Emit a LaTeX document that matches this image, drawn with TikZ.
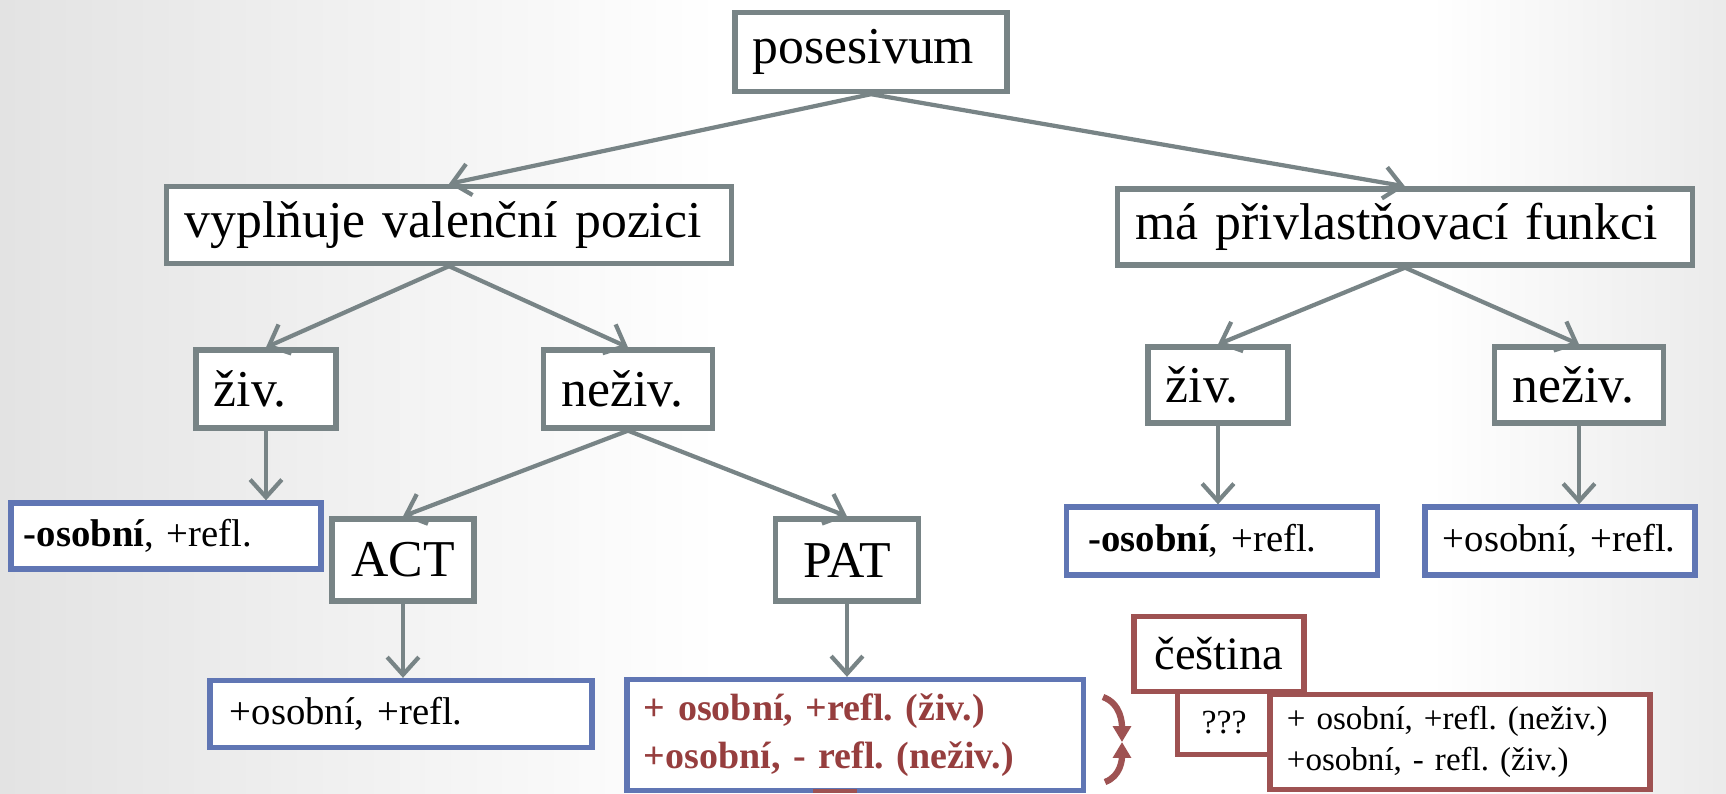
\documentclass[tikz,border=0pt]{standalone}
\usepackage{fontspec}
\setmainfont{Liberation Serif}
\usepackage{xcolor}
\usepackage{tikz}
\usetikzlibrary{arrows.meta}

\definecolor{boxgray}{RGB}{120,132,134}
\definecolor{boxblue}{RGB}{96,118,180}
\definecolor{boxred}{RGB}{158,82,82}
\definecolor{redtext}{RGB}{150,62,62}

\tikzset{
  gbox/.style={draw=boxgray, line width=1.5pt, fill=white, inner xsep=0.18cm, inner ysep=0pt, align=left, font=\fontsize{14.7}{18}\selectfont},
  bbox/.style={draw=boxblue, line width=1.5pt, fill=white, inner ysep=0pt, align=left, font=\fontsize{11}{13}\selectfont},
  rbox/.style={draw=boxred, line width=1.5pt, fill=white, inner ysep=0pt, align=left},
  arr/.style={draw=boxgray, line width=1.2pt, -{Straight Barb[length=5pt,width=9pt]}},
  brc/.style={draw=boxred, line width=1.8pt, -{Triangle[length=4.5pt,width=5pt]}}
}

\begin{document}
\frenchspacing
\begin{tikzpicture}[x=0.01cm, y=-0.01cm]
		% background
		\useasboundingbox (0,0) rectangle (1726,793);
		\fill[white] (0,0) rectangle (1726,793);
		\shade[left color=black!11, right color=white] (0,0) rectangle (720,793);
		\shade[left color=white, right color=black!8] (1430,0) rectangle (1726,793);

		% Top levels
		\node[gbox, text width=2.36cm, minimum height=0.79cm] (pos) at (871,52) {posesivum};
		\node[gbox, text width=5.28cm, minimum height=0.77cm] (vyp) at (449,225) {vyplňuje valenční pozici};
		\node[gbox, text width=5.39cm, minimum height=0.76cm] (ma) at (1405,227) {má přivlastňovací funkci};

		% živ. / neživ.
		\node[gbox, text width=1.04cm, minimum height=0.78cm] (ziv1) at (266,389) {živ.};
		\node[gbox, text width=1.33cm, minimum height=0.78cm] (neziv1) at (628,389) {neživ.};
		\node[gbox, text width=1.04cm, minimum height=0.76cm] (ziv2) at (1218,385) {živ.};
		\node[gbox, text width=1.33cm, minimum height=0.76cm] (neziv2) at (1579,385) {neživ.};

		% ACT / PAT
		\node[gbox, minimum width=1.42cm, minimum height=0.82cm] (act) at (403,560) {ACT};
		\node[gbox, minimum width=1.43cm, minimum height=0.82cm] (pat) at (847,560) {PAT};

		% leaves
		\node[bbox, inner xsep=0.13cm, text width=2.84cm, minimum height=0.66cm] (osA) at (166,536) {\textbf{-osobní}, +refl.};
		\node[bbox, inner xsep=0.20cm, text width=3.42cm, minimum height=0.67cm] (osB) at (401,714) {+osobní, +refl.};
		\node[bbox, inner xsep=0.17cm, text width=4.22cm, minimum height=1.11cm,
			font=\fontsize{10.8}{13.5}\selectfont\bfseries, text=redtext] (osC) at (855,735) {+ osobní, +refl. (živ.)\\+osobní, - refl. (neživ.)};
		\node[bbox, inner xsep=0.22cm, text width=2.67cm, minimum height=0.68cm] (osD) at (1222,541) {\textbf{-osobní}, +refl.};
		\node[bbox, inner xsep=0.18cm, text width=2.34cm, minimum height=0.68cm] (osE) at (1560,541) {+osobní, +refl.};
		\fill[boxred] (813,789) rectangle (857,793);

		% čeština
		\node[rbox, minimum width=1.70cm, minimum height=0.75cm, font=\fontsize{13.2}{15}\selectfont] (ces) at (1219,654) {čeština};
		\node[rbox, minimum width=0.93cm, minimum height=0.63cm, font=\fontsize{9.6}{11}\selectfont] (qqq) at (1224,723) {???};
		\node[rbox, inner xsep=0.17cm, text width=3.46cm, minimum height=0.95cm,
			font=\fontsize{9.4}{11.5}\selectfont] (long) at (1460,742) {+ osobní, +refl. (neživ.)\\+osobní, - refl. (živ.)};

		% connectors
		\foreach \a/\b in {pos/vyp, pos/ma, vyp/ziv1, vyp/neziv1, ma/ziv2, ma/neziv2, neziv1/act, neziv1/pat}
			\draw[arr] (\a.south) -- (\b.north);
		\foreach \a/\b in {ziv1/osA, act/osB, pat/osC, ziv2/osD, neziv2/osE}
			\draw[arr] (\a.south) -- (\a.south |- \b.north);

		% brace
		\coordinate (bt) at (1103,697);
		\coordinate (bm) at (1122,742);
		\coordinate (bb) at (1105,782);
		\draw[brc] (bt) to[out=-20, in=90] (bm);
		\draw[brc] (bb) to[out=20, in=-90] (bm);
	\end{tikzpicture}
\end{document}
